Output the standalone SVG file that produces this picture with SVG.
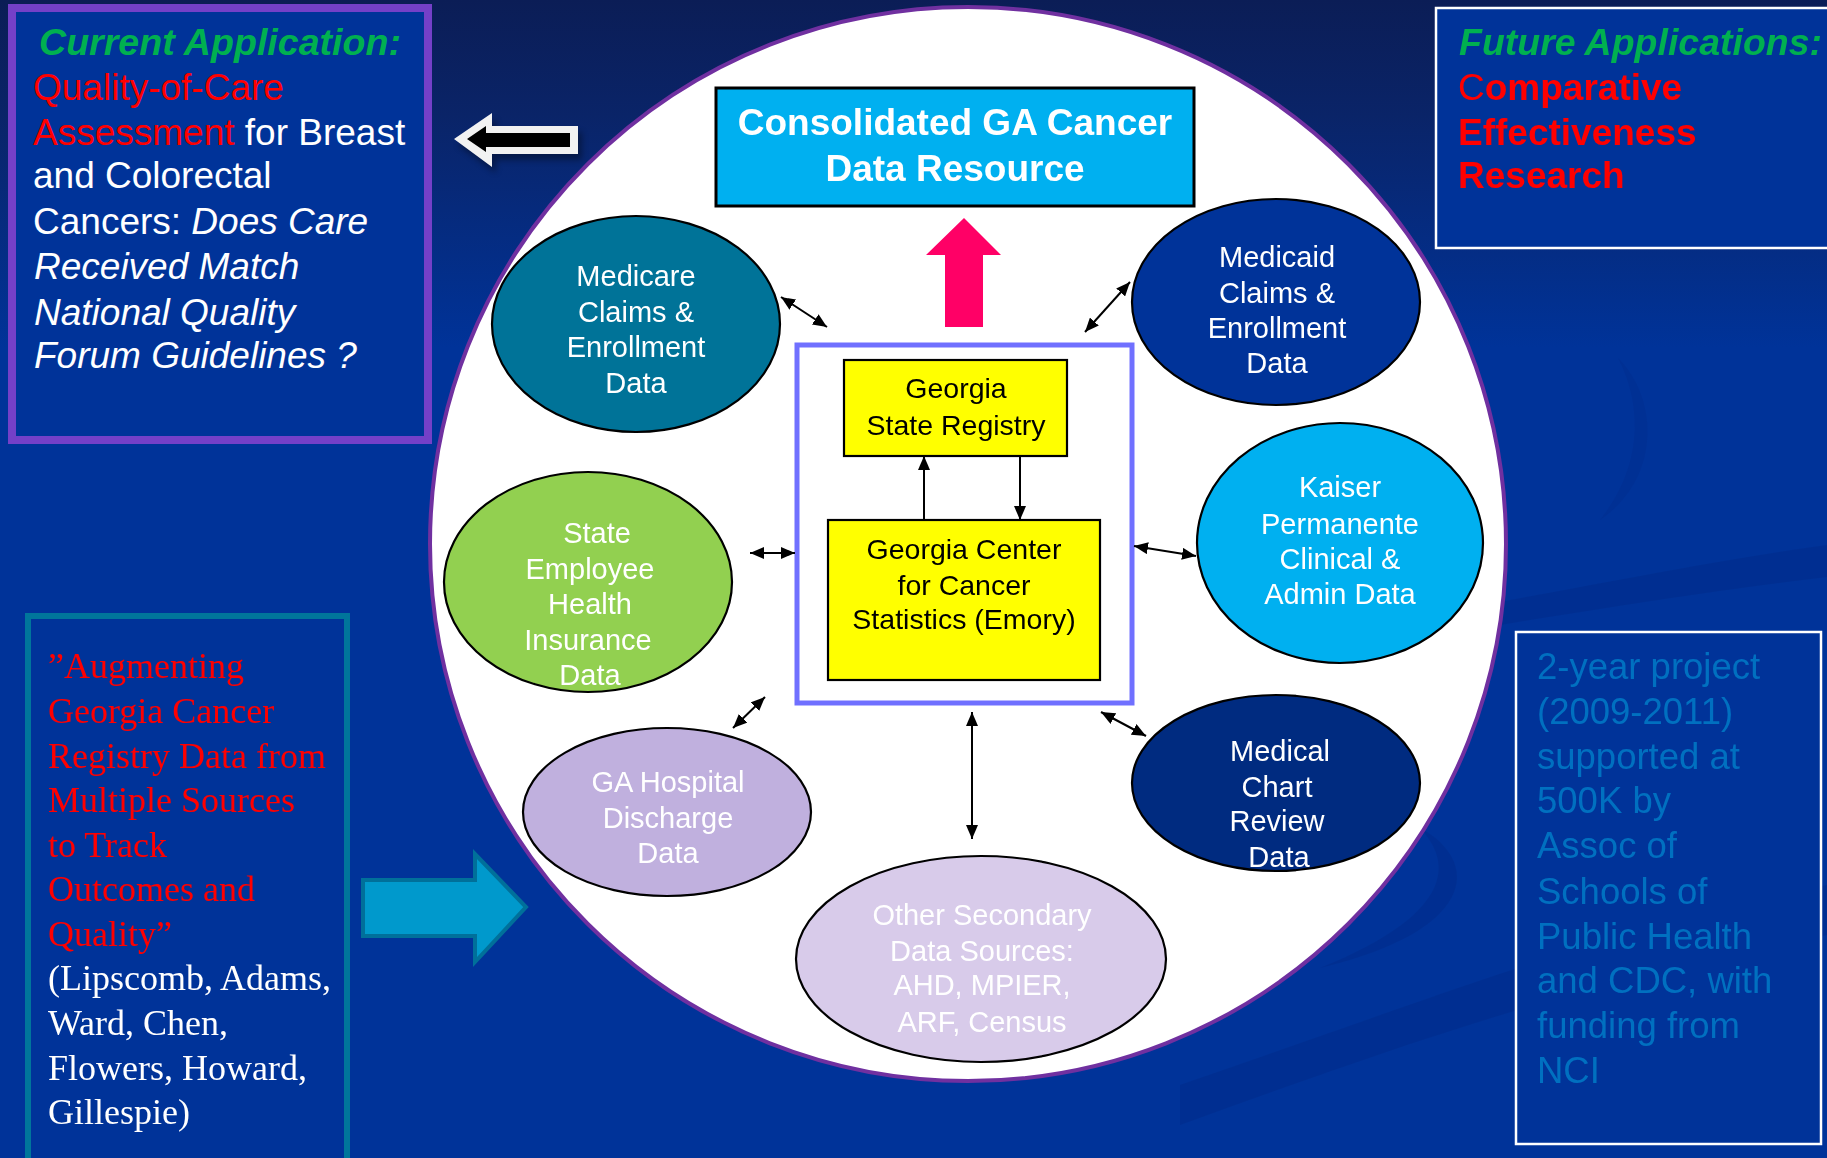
<svg xmlns="http://www.w3.org/2000/svg" width="1827" height="1158" viewBox="0 0 1827 1158">
  <defs>
    <linearGradient id="bg" x1="0" y1="0" x2="0" y2="1">
      <stop offset="0" stop-color="#0b1d56"/>
      <stop offset="0.1" stop-color="#0a2468"/>
      <stop offset="0.3" stop-color="#003399"/>
      <stop offset="1" stop-color="#003399"/>
    </linearGradient>
    <filter id="soft" x="-20%" y="-30%" width="140%" height="160%">
      <feGaussianBlur stdDeviation="3"/>
    </filter>
    <marker id="ah" viewBox="0 0 14 12" refX="14" refY="6" markerWidth="14" markerHeight="12" markerUnits="userSpaceOnUse" orient="auto-start-reverse">
      <path d="M0,0 L14,6 L0,12 z" fill="#000"/>
    </marker>
    <style>
      .sans { font-family: "Liberation Sans", Arial, Helvetica, sans-serif; }
      .serif { font-family: "Liberation Serif", "Times New Roman", serif; }
      .node { stroke: #000; stroke-width: 2.2; }
      .nlabel { font-family: "Liberation Sans", Arial, sans-serif; font-size: 29px; fill: #fff; text-anchor: middle; }
      .blabel { font-family: "Liberation Sans", Arial, sans-serif; font-size: 28.5px; fill: #000; text-anchor: middle; }
      .conn { stroke: #000; stroke-width: 2; fill: none; }
      .side { font-family: "Liberation Sans", Arial, sans-serif; font-size: 37px; }
    </style>
  </defs>

  <!-- background -->
  <rect x="0" y="0" width="1827" height="1158" fill="url(#bg)"/>
  <g fill="#002a85" opacity="0.4">
    <path d="M1180,1085 C1400,1010 1600,930 1827,885 L1827,935 C1600,975 1400,1045 1180,1125 Z"/>
    <path d="M1500,602 C1620,580 1720,560 1827,545 L1827,577 C1720,590 1620,605 1500,625 Z"/>
    <path d="M1420,828 C1480,860 1480,930 1320,968 C1440,920 1460,870 1420,828 Z"/>
    <path d="M1618,358 C1660,400 1660,480 1600,520 C1640,470 1645,410 1618,358 Z" opacity="0.6"/>
  </g>

  <!-- large white circle -->
  <ellipse id="hub-circle" cx="968" cy="544" rx="538" ry="537" fill="#fff" stroke="#7030a0" stroke-width="4"/>

  <!-- current application panel -->
  <g id="current-application">
    <rect x="12" y="8" width="416" height="432" fill="#003399" stroke="#7440c8" stroke-width="8"/>
    <text class="side" x="220" y="55" text-anchor="middle" font-weight="bold" font-style="italic" fill="#00b050" textLength="362" lengthAdjust="spacingAndGlyphs">Current Application:</text>
    <text class="side" x="33" y="100" fill="#ff0000">Quality-of-Care</text>
    <text class="side" x="33" y="145"><tspan fill="#ff0000">Assessment</tspan><tspan fill="#fff"> for Breast</tspan></text>
    <text class="side" x="33" y="188" fill="#fff">and Colorectal</text>
    <text class="side" x="33" y="234" fill="#fff">Cancers: <tspan font-style="italic">Does Care</tspan></text>
    <text class="side" x="34" y="279" fill="#fff" font-style="italic">Received Match</text>
    <text class="side" x="34" y="325" fill="#fff" font-style="italic">National Quality</text>
    <text class="side" x="34" y="368" fill="#fff" font-style="italic">Forum Guidelines ?</text>
  </g>

  <!-- outline arrow pointing to the current application panel -->
  <g id="left-arrow">
    <polygon points="458,145 496,119 496,132 582,132 582,160 496,160 496,173" fill="#000" opacity="0.35" filter="url(#soft)"/>
    <polygon points="454,139 492,113 492,126 578,126 578,154 492,154 492,167" fill="#f2f2f2"/>
    <polygon points="467,139 486,126 486,133 570,133 570,147 486,147 486,152" fill="#000"/>
  </g>

  <!-- future applications panel -->
  <g id="future-applications">
    <rect x="1436" y="8" width="400" height="240" fill="#003399" stroke="#fff" stroke-width="2.5"/>
    <text class="side" x="1459" y="55" font-weight="bold" font-style="italic" fill="#00b050" textLength="363" lengthAdjust="spacingAndGlyphs">Future Applications:</text>
    <text class="side" x="1458" y="100" fill="#ff0000" font-weight="bold"><tspan font-weight="normal">C</tspan>omparative</text>
    <text class="side" x="1458" y="145" fill="#ff0000" font-weight="bold">Effectiveness</text>
    <text class="side" x="1458" y="188" fill="#ff0000" font-weight="bold">Research</text>
  </g>

  <!-- project citation panel -->
  <g id="project-citation">
    <rect x="28" y="616" width="319" height="600" fill="#003399" stroke="#00769b" stroke-width="6"/>
    <g class="serif" font-size="36">
      <text x="48" y="678" fill="#ff0000">”Augmenting</text>
      <text x="48" y="723" fill="#ff0000">Georgia Cancer</text>
      <text x="48" y="768" fill="#ff0000">Registry Data from</text>
      <text x="48" y="812" fill="#ff0000">Multiple Sources</text>
      <text x="48" y="857" fill="#ff0000">to Track</text>
      <text x="48" y="901" fill="#ff0000">Outcomes and</text>
      <text x="48" y="946" fill="#ff0000">Quality”</text>
      <text x="48" y="990" fill="#fff">(Lipscomb, Adams,</text>
      <text x="48" y="1035" fill="#fff">Ward, Chen,</text>
      <text x="48" y="1080" fill="#fff">Flowers, Howard,</text>
      <text x="48" y="1124" fill="#fff">Gillespie)</text>
    </g>
  </g>

  <!-- block arrow into the circle -->
  <g id="right-arrow">
    <polygon points="363,880 475,880 475,854 526,907 475,962 475,936 363,936" fill="#0099cc" stroke="#00709a" stroke-width="4" stroke-linejoin="miter"/>
  </g>

  <!-- funding panel -->
  <g id="funding">
    <rect x="1516" y="632" width="305" height="512" fill="#003399" stroke="#fff" stroke-width="2.5"/>
    <g class="sans" font-size="36.5" fill="#0070c0">
      <text x="1537" y="679">2-year project</text>
      <text x="1537" y="724">(2009-2011)</text>
      <text x="1537" y="769">supported at</text>
      <text x="1537" y="813">500K by</text>
      <text x="1537" y="858">Assoc of</text>
      <text x="1537" y="904">Schools of</text>
      <text x="1537" y="949">Public Health</text>
      <text x="1537" y="993">and CDC, with</text>
      <text x="1537" y="1038">funding from</text>
      <text x="1537" y="1083">NCI</text>
    </g>
  </g>

  <!-- consolidated resource -->
  <g id="consolidated">
    <rect x="716" y="88" width="478" height="118" fill="#00b0f0" stroke="#000" stroke-width="3"/>
    <text class="sans" x="955" y="135" font-size="37" font-weight="bold" fill="#fff" text-anchor="middle">Consolidated GA Cancer</text>
    <text class="sans" x="955" y="181" font-size="37" font-weight="bold" fill="#fff" text-anchor="middle">Data Resource</text>
  </g>

  <!-- upward output arrow -->
  <g id="output-arrow">
    <polygon points="964,218 1001,255 983,255 983,327 945,327 945,255 926,255" fill="#ff0066"/>
  </g>

  <!-- core frame -->
  <g id="core">
    <rect x="797" y="345" width="335" height="358" fill="#fff" stroke="#7070ff" stroke-width="5"/>
  </g>

  <g id="state-registry">
    <rect x="844" y="360" width="223" height="96" fill="#ffff00" class="node"/>
    <text class="blabel" x="956" y="398">Georgia</text>
    <text class="blabel" x="956" y="435">State Registry</text>
  </g>

  <g id="gccs">
    <rect x="828" y="520" width="272" height="160" fill="#ffff00" class="node"/>
    <text class="blabel" x="964" y="559">Georgia Center</text>
    <text class="blabel" x="964" y="595">for Cancer</text>
    <text class="blabel" x="964" y="629">Statistics (Emory)</text>
  </g>

  <g id="medicare">
    <ellipse cx="636" cy="324" rx="144" ry="108" fill="#007398" class="node"/>
    <text class="nlabel" x="636" y="286">Medicare</text>
    <text class="nlabel" x="636" y="322">Claims &amp;</text>
    <text class="nlabel" x="636" y="357">Enrollment</text>
    <text class="nlabel" x="636" y="393">Data</text>
  </g>

  <g id="medicaid">
    <ellipse cx="1276" cy="302" rx="144" ry="103" fill="#003399" class="node"/>
    <text class="nlabel" x="1277" y="267">Medicaid</text>
    <text class="nlabel" x="1277" y="303">Claims &amp;</text>
    <text class="nlabel" x="1277" y="338">Enrollment</text>
    <text class="nlabel" x="1277" y="373">Data</text>
  </g>

  <g id="kaiser">
    <ellipse cx="1340" cy="543" rx="143" ry="120" fill="#00b0f0" class="node"/>
    <text class="nlabel" x="1340" y="497">Kaiser</text>
    <text class="nlabel" x="1340" y="534">Permanente</text>
    <text class="nlabel" x="1340" y="569">Clinical &amp;</text>
    <text class="nlabel" x="1340" y="604">Admin Data</text>
  </g>

  <g id="state-employee">
    <ellipse cx="588" cy="582" rx="144" ry="110" fill="#92d050" class="node"/>
    <text class="nlabel" x="597" y="543">State</text>
    <text class="nlabel" x="590" y="579">Employee</text>
    <text class="nlabel" x="590" y="614">Health</text>
    <text class="nlabel" x="588" y="650">Insurance</text>
    <text class="nlabel" x="590" y="685">Data</text>
  </g>

  <g id="ga-hospital">
    <ellipse cx="667" cy="812" rx="144" ry="84" fill="#c0b0de" class="node"/>
    <text class="nlabel" x="668" y="792">GA Hospital</text>
    <text class="nlabel" x="668" y="828">Discharge</text>
    <text class="nlabel" x="668" y="863">Data</text>
  </g>

  <g id="medical-chart">
    <ellipse cx="1276" cy="783" rx="144" ry="88" fill="#002b80" class="node"/>
    <text class="nlabel" x="1280" y="761">Medical</text>
    <text class="nlabel" x="1277" y="797">Chart</text>
    <text class="nlabel" x="1277" y="831">Review</text>
    <text class="nlabel" x="1279" y="867">Data</text>
  </g>

  <g id="other-secondary">
    <ellipse cx="981" cy="959" rx="185" ry="103" fill="#d8cbea" class="node"/>
    <text class="nlabel" x="982" y="925">Other Secondary</text>
    <text class="nlabel" x="982" y="961">Data Sources:</text>
    <text class="nlabel" x="982" y="995">AHD, MPIER,</text>
    <text class="nlabel" x="982" y="1032">ARF, Census</text>
  </g>

  <!-- connectors -->
  <g id="connectors">
    <line class="conn" x1="924" y1="520" x2="924" y2="456" marker-end="url(#ah)"/>
    <line class="conn" x1="1020" y1="456" x2="1020" y2="520" marker-end="url(#ah)"/>
    <line class="conn" x1="781" y1="297" x2="827" y2="327" marker-start="url(#ah)" marker-end="url(#ah)"/>
    <line class="conn" x1="1130" y1="282" x2="1085" y2="332" marker-start="url(#ah)" marker-end="url(#ah)"/>
    <line class="conn" x1="750" y1="553" x2="795" y2="553" marker-start="url(#ah)" marker-end="url(#ah)"/>
    <line class="conn" x1="1134" y1="546" x2="1196" y2="556" marker-start="url(#ah)" marker-end="url(#ah)"/>
    <line class="conn" x1="765" y1="697" x2="733" y2="728" marker-start="url(#ah)" marker-end="url(#ah)"/>
    <line class="conn" x1="972" y1="712" x2="972" y2="839" marker-start="url(#ah)" marker-end="url(#ah)"/>
    <line class="conn" x1="1101" y1="712" x2="1146" y2="736" marker-start="url(#ah)" marker-end="url(#ah)"/>
  </g>
</svg>
